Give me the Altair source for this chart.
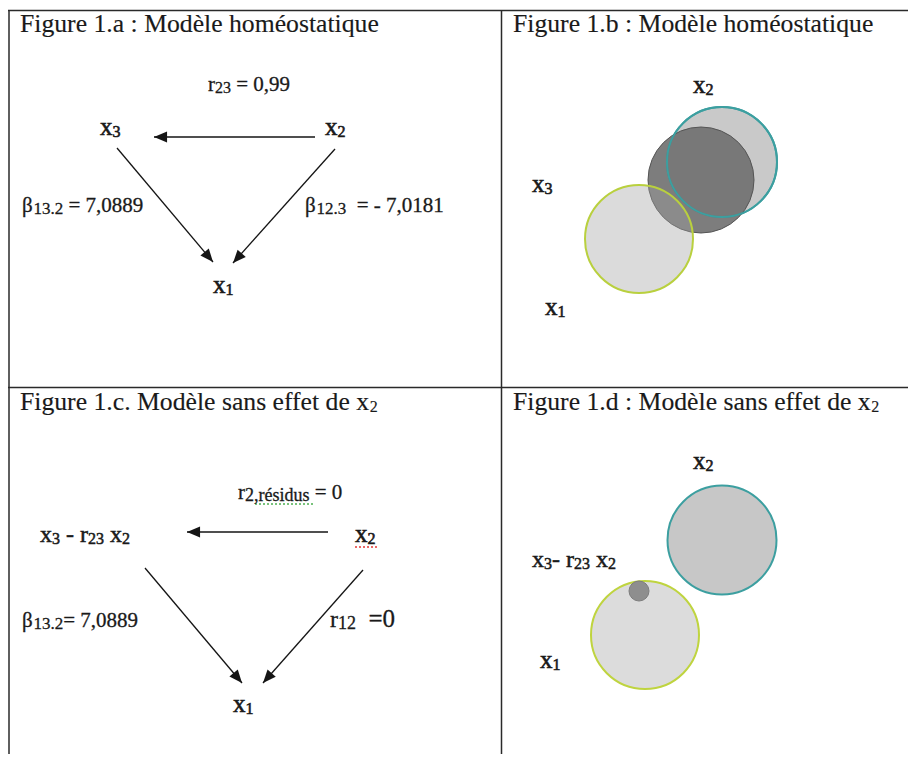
import altair as alt
import pandas as pd

# ------------------------------------------------------------------
# DATA (pixel-like coordinate system)
# ------------------------------------------------------------------
# frame of the 2x2 table
GRID_X1 = [8, 8, 9, 501.5]
GRID_X2 = [908, 908, 9, 501.5]
GRID_Y1 = [10.5, 387.5, 10, 10]
GRID_Y2 = [10.5, 387.5, 754, 754]

# path-diagram arrows (start -> tip), figures 1.a and 1.c
ARROW_X1 = [315, 117, 335, 328, 145, 363]
ARROW_Y1 = [137, 148, 149, 532, 568, 570]
ARROW_X2 = [154, 213, 233, 187, 242, 263]
ARROW_Y2 = [137, 262, 263, 532, 683, 683]

# Venn-like circles, figures 1.b and 1.d (drawn in this order)
CIRCLE_NAME = ["x2 (1.b)", "x3 (1.b)", "x1 (1.b)", "x2 contour (1.b)",
               "x2 (1.d)", "x1 (1.d)", "x3 - r23 x2 (1.d)"]
CIRCLE_CX = [722, 701, 639, 722, 722, 645, 639]
CIRCLE_CY = [162, 180, 239, 162, 540, 635, 591]
CIRCLE_R = [55, 53, 54, 55, 54.5, 54, 10]
CIRCLE_FILL = ["#c9c9c9", "#6f6f6f", "#a3a3a3", "#ffffff",
               "#c7c7c7", "#dcdcdc", "#8e8e8e"]
CIRCLE_FILL_OPACITY = [1, 0.9, 0.39, 0, 1, 1, 1]
CIRCLE_STROKE = ["#3c9fa0", "#555555", "#b9d03e", "#3c9fa0",
                 "#3c9fa0", "#bfd43f", "#7d7d7d"]
CIRCLE_STROKE_W = [2, 1, 2, 2, 2, 2, 1]

# panel titles
TITLES = ["Figure 1.a : Modèle homéostatique",
          "Figure 1.b : Modèle homéostatique",
          "Figure 1.c. Modèle sans effet de x",
          "Figure 1.d : Modèle sans effet de x"]
TITLE_SUB = ["", "", "2", "2"]
TITLE_X = [20, 513, 20, 513]
TITLE_Y = [32, 32, 410, 410]
TITLE_SIZE = 25.7
TITLE_SUB_SIZE = 16

# labels: pieces of (text, font size, baseline drop)
NODE = lambda d: [("x", 25, 0), (d, 16, 1.5)]
LABEL_X = [208, 100, 325, 22, 305, 213,
           693, 532, 545,
           238, 40, 355, 22, 330, 233,
           693, 532, 540]
LABEL_Y = [91, 135, 135, 212, 212, 293,
           93, 192, 315,
           499, 542, 542, 627, 627, 712,
           469, 567, 668]
LABEL_BOLD = [0.3, 0.6, 0.6, 0.3, 0.3, 0.6,
              0.6, 0.6, 0.6,
              0.3, 0.5, 0.6, 0.3, 0.3, 0.6,
              0.6, 0.5, 0.6]
LABEL_PIECES = [
    [("r", 21, 0), ("23", 16, 2), (" = 0,99", 21, 0)],
    NODE("3"),
    NODE("2"),
    [("β", 21, 0), ("13.2", 17, 2), (" = 7,0889", 21, 0)],
    [("β", 21, 0), ("12.3", 17, 2), ("  = - 7,0181", 21, 0)],
    NODE("1"),
    NODE("2"),
    NODE("3"),
    NODE("1"),
    [("r", 21, 0), ("2,résidus", 18, 2), (" = 0", 21, 0)],
    [("x", 24, 0), ("3", 16, 1.5), (" - r", 24, 0), ("23", 16, 1.5),
     (" x", 24, 0), ("2", 16, 1.5)],
    NODE("2"),
    [("β", 21, 0), ("13.2", 17, 2), ("= 7,0889", 21, 0)],
    [("r", 24, 0), ("12", 18, 2), ("  =0", 25, 0)],
    NODE("1"),
    NODE("2"),
    [("x", 24, 0), ("3", 16, 1.5), ("- r", 24, 0), ("23", 16, 1.5),
     (" x", 24, 0), ("2", 16, 1.5)],
    NODE("1"),
]

# spell-check squiggles of the original document
SQUIG_X1 = [255, 355]
SQUIG_X2 = [315, 378]
SQUIG_Y = [504, 547]
SQUIG_COLOR = ["#4caf50", "#e53935"]

# Times / Liberation Serif advance widths (per 1000 em)
WIDTHS = {" ": 250, ",": 250, "-": 333, ".": 250, ":": 278, "=": 564,
          "β": 549, "F": 556, "M": 889, "a": 444, "b": 500, "c": 444,
          "d": 500, "e": 444, "f": 333, "g": 500, "h": 500, "i": 278,
          "l": 278, "m": 778, "n": 500, "o": 500, "q": 500, "r": 333,
          "s": 389, "t": 278, "u": 500, "x": 500, "è": 444, "é": 444}


def text_width(s, size):
    return sum(WIDTHS.get(ch, 500) for ch in s) * size / 1000.0


# ------------------------------------------------------------------
# tables
# ------------------------------------------------------------------
grid = pd.DataFrame({"x": GRID_X1, "x2": GRID_X2, "y": GRID_Y1, "y2": GRID_Y2})
arrows = pd.DataFrame({"x": ARROW_X1, "y": ARROW_Y1, "x2": ARROW_X2, "y2": ARROW_Y2})
circles = pd.DataFrame({
    "name": CIRCLE_NAME, "x": CIRCLE_CX, "y": CIRCLE_CY, "r": CIRCLE_R,
    "fill": CIRCLE_FILL, "fo": CIRCLE_FILL_OPACITY, "stroke": CIRCLE_STROKE,
    "sw": CIRCLE_STROKE_W, "ord": list(range(len(CIRCLE_NAME))),
})
squig = pd.DataFrame({"x": SQUIG_X1, "x2": SQUIG_X2, "y": SQUIG_Y, "c": SQUIG_COLOR})

rows = []


def add_piece(x, y, txt, fs, bold):
    lead = len(txt) - len(txt.lstrip(" "))
    x += text_width(txt[:lead], fs)
    core = txt.lstrip(" ")
    rows.append({"x": x, "y": y, "text": core, "fs": fs, "bw": bold})
    return x + text_width(core, fs)


for t, sub, x0, y0 in zip(TITLES, TITLE_SUB, TITLE_X, TITLE_Y):
    xe = add_piece(x0, y0, t, TITLE_SIZE, 0.15)
    if sub:
        add_piece(xe, y0 + 2, sub, TITLE_SUB_SIZE, 0.15)
for x0, y0, bold, pieces in zip(LABEL_X, LABEL_Y, LABEL_BOLD, LABEL_PIECES):
    x = x0
    for txt, fs, drop in pieces:
        x = add_piece(x, y0 + drop, txt, fs, bold)
texts = pd.DataFrame(rows)

# ------------------------------------------------------------------
# chart
# ------------------------------------------------------------------
W, H = 900, 746
XS = alt.Scale(domain=[8, 8 + W], nice=False, zero=False)
YS = alt.Scale(domain=[8, 8 + H], nice=False, zero=False, reverse=True)
X = alt.X("x:Q", scale=XS, axis=None)
Y = alt.Y("y:Q", scale=YS, axis=None)

grid_layer = alt.Chart(grid).mark_rule(color="#2a2a2a", strokeWidth=1.5).encode(
    x=X, y=Y, x2="x2:Q", y2="y2:Q")

circle_layer = alt.Chart(circles).transform_calculate(
    area="4 * datum.r * datum.r"
).mark_circle(opacity=1).encode(
    x=X, y=Y,
    size=alt.Size("area:Q", scale=None, legend=None),
    fill=alt.Fill("fill:N", scale=None, legend=None),
    fillOpacity=alt.FillOpacity("fo:Q", scale=None, legend=None),
    stroke=alt.Stroke("stroke:N", scale=None, legend=None),
    strokeWidth=alt.StrokeWidth("sw:Q", scale=None, legend=None),
    order=alt.Order("ord:Q"),
)

arrow_lines = alt.Chart(arrows).mark_rule(color="#151515", strokeWidth=1.3).encode(
    x=X, y=Y, x2="x2:Q", y2="y2:Q")

arrow_heads = alt.Chart(arrows).transform_calculate(
    ang="(atan2(datum.x2 - datum.x, datum.y - datum.y2) * 180 / PI + 360) % 360",
    tx="datum.x2", ty="datum.y2",
).mark_point(
    shape="M0,0L-0.42,1L0.42,1Z", filled=True, color="#151515",
    opacity=1, size=680, strokeWidth=0,
).encode(
    x=alt.X("tx:Q", scale=XS, axis=None),
    y=alt.Y("ty:Q", scale=YS, axis=None),
    angle=alt.Angle("ang:Q", scale=None),
)

squig_layer = alt.Chart(squig).mark_rule(strokeWidth=1.3, strokeDash=[2, 2]).encode(
    x=X, y=Y, x2="x2:Q",
    color=alt.Color("c:N", scale=None, legend=None),
)

text_layer = alt.Chart(texts).mark_text(
    align="left", baseline="alphabetic", font="Liberation Serif",
    color="#1a1a1a", stroke="#1a1a1a",
).encode(
    x=X, y=Y, text="text:N",
    size=alt.Size("fs:Q", scale=None, legend=None),
    strokeWidth=alt.StrokeWidth("bw:Q", scale=None, legend=None),
)

chart = alt.layer(
    grid_layer, circle_layer, arrow_lines, arrow_heads, squig_layer, text_layer
).properties(
    width=W, height=H, padding=0, background="white",
    autosize=alt.AutoSizeParams(type="none"),
).configure_view(stroke=None)

chart.save("out.html", embed_options={"renderer": "svg", "actions": False})
